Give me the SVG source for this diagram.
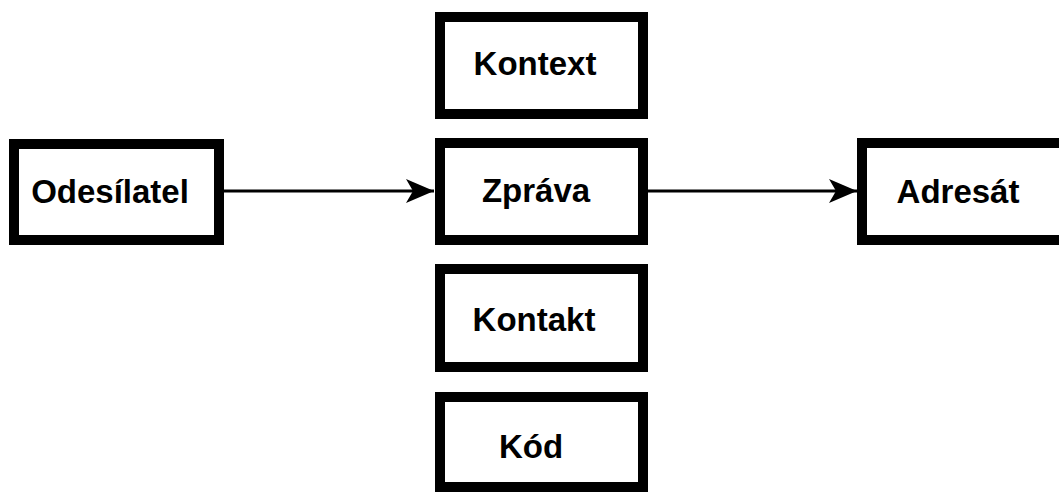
<svg xmlns="http://www.w3.org/2000/svg" width="1059" height="492" viewBox="0 0 1059 492">
  <style>
    .box { fill: #ffffff; stroke: #000000; stroke-width: 10; }
    .label { font-family: "Liberation Sans", Arial, sans-serif; font-weight: bold; font-size: 33px; fill: #000000; text-anchor: middle; }
    .link { stroke: #000000; stroke-width: 3; fill: none; marker-end: url(#arrow); }
  </style>
  <defs>
    <marker id="arrow" markerUnits="userSpaceOnUse" markerWidth="28" markerHeight="26" refX="28" refY="13" orient="auto">
      <path d="M0,1 L28,13 L0,25 L7,13 Z" fill="#000000"/>
    </marker>
  </defs>
  <rect width="1059" height="492" fill="#ffffff"/>

  <g id="connectors">
    <line class="link" x1="224" y1="191" x2="434" y2="191"/>
    <line class="link" x1="648" y1="191" x2="857" y2="191"/>
  </g>

  <g id="odesilatel">
    <rect class="box" x="14" y="144" width="205" height="96"/>
    <text class="label" x="110" y="203">Odesílatel</text>
  </g>
  <g id="kontext">
    <rect class="box" x="440" y="17" width="203" height="97"/>
    <text class="label" x="535" y="75">Kontext</text>
  </g>
  <g id="zprava">
    <rect class="box" x="440" y="143" width="203" height="97"/>
    <text class="label" x="536" y="202">Zpráva</text>
  </g>
  <g id="kontakt">
    <rect class="box" x="440" y="269" width="203" height="98"/>
    <text class="label" x="534" y="331">Kontakt</text>
  </g>
  <g id="kod">
    <rect class="box" x="440" y="397" width="203" height="90"/>
    <text class="label" x="531" y="458">Kód</text>
  </g>
  <g id="adresat">
    <rect class="box" x="862" y="143" width="210" height="97"/>
    <text class="label" x="958" y="203">Adresát</text>
  </g>
</svg>
